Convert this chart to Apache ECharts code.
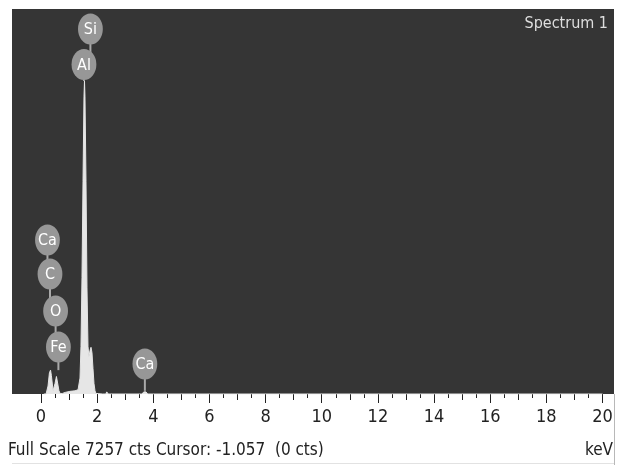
<!DOCTYPE html>
<html>
<head>
<meta charset="utf-8">
<script src="https://cdn.jsdelivr.net/npm/echarts@6/dist/echarts.min.js"></script>
<style>html,body{margin:0;padding:0;background:#fff}#c{width:620px;height:465px}</style>
</head>
<body>
<div id="c"></div>
<script>
// Spectrum (keV, counts)
const energyKeV = [0.10, 0.18, 0.25, 0.30, 0.34, 0.37, 0.43, 0.46, 0.50, 0.55, 0.59, 0.64, 0.68, 0.76, 0.79, 0.82, 0.86, 0.89, 1.03, 1.21, 1.32, 1.353, 1.389, 1.424, 1.460, 1.496, 1.531, 1.549, 1.567, 1.603, 1.638, 1.674, 1.709, 1.745, 1.781, 1.816, 1.852, 1.887, 1.923, 1.958, 2.20, 2.31, 2.34, 2.37, 2.40, 3.60, 3.66, 3.70, 3.74, 3.80, 20.0];
const counts    = [0,    0,    150,  400,  450,  350,  60,   30,   200,  330,  300,  60,   10,   10,   40,   10,   30,   40,   50,   60,   80,   100,   300,   900,   2200,  4000,  5600,  5900,  5600,  4000,  2000,  900,   700,   820,   880,   780,   480,   200,   60,    10,    0,    0,    40,   40,   0,    0,    40,   60,   40,   0,    0];

// Element annotation labels
const peakLabels     = ['Si', 'Al', 'Ca', 'C', 'O', 'Fe', 'Ca'];
const labelKeV       = [1.76, 1.53, 0.23, 0.32, 0.52, 0.62, 3.70];
const labelCounts    = [6880, 6211, 2903, 2262, 1565, 886, 565];
const stemEndCounts  = [6211, 5900, 2262, 1565, 886, 450, 60];

// Axis
const xMin = -1.033, xMax = 20.41, fullScale = 7257;
const tickLabels = [0, 2, 4, 6, 8, 10, 12, 14, 16, 18, 20];
const oddTicks = [1, 3, 5, 7, 9, 11, 13, 15, 17, 19];
const halfTicks = [0.5, 1.5, 2.5, 3.5, 4.5, 5.5, 6.5, 7.5, 8.5, 9.5, 10.5, 11.5, 12.5, 13.5, 14.5, 15.5, 16.5, 17.5, 18.5, 19.5];

const FONT = "'Liberation Sans Narrow','Arial Narrow','DejaVu Sans Condensed',sans-serif";

const spectrum = energyKeV.map((e, i) => [e, counts[i]]);
const labelData = peakLabels.map((n, i) => [labelKeV[i], labelCounts[i], stemEndCounts[i], n]);

function tickAxis(vals, len, showLabels) {
  return {
    type: 'value', min: xMin, max: xMax, position: 'bottom', gridIndex: 0,
    axisLine: { show: false },
    splitLine: { show: false },
    axisTick: { show: true, length: len, customValues: vals, lineStyle: { color: '#222', width: 1 } },
    axisLabel: showLabels ? { show: true, customValues: vals, margin: 14, fontSize: 18, color: '#222', fontFamily: FONT } : { show: false }
  };
}

const chart = echarts.init(document.getElementById('c'), null, { renderer: 'canvas' });
chart.setOption({
  animation: false,
  backgroundColor: '#ffffff',
  grid: { left: 12, top: 9, right: 6, bottom: 71, show: true, backgroundColor: '#353535', borderWidth: 0 },
  xAxis: [tickAxis(tickLabels, 9, true), tickAxis(oddTicks, 6, false), tickAxis(halfTicks, 4, false)],
  yAxis: { type: 'value', min: 0, max: fullScale, show: false, splitLine: { show: false } },
  series: [
    {
      type: 'line', data: spectrum, xAxisIndex: 0, showSymbol: false, symbol: 'none',
      lineStyle: { color: '#e4e4e4', width: 1 },
      areaStyle: { color: '#e6e6e6', opacity: 1 }
    },
    {
      type: 'custom', xAxisIndex: 0, data: labelData,
      encode: { x: 0, y: [1, 2] },
      renderItem: function (params, api) {
        const c = api.coord([api.value(0), api.value(1)]);
        const e = api.coord([api.value(0), api.value(2)]);
        const name = peakLabels[params.dataIndex];
        return {
          type: 'group',
          children: [
            { type: 'line', shape: { x1: c[0], y1: c[1], x2: e[0], y2: e[1] }, style: { stroke: '#a9a9a9', lineWidth: 2 } },
            { type: 'circle', x: c[0], y: c[1], scaleX: 0.8, shape: { cx: 0, cy: 0, r: 15.5 }, style: { fill: '#979797' } },
            { type: 'text', x: c[0], y: c[1] + 1, style: { text: name, fill: '#ffffff', align: 'center', verticalAlign: 'middle', fontSize: 16, fontFamily: FONT } }
          ]
        };
      }
    }
  ],
  graphic: [
    { type: 'text', right: 12, top: 16, style: { text: 'Spectrum 1', fill: '#dedede', fontSize: 16, fontFamily: FONT } },
    { type: 'text', left: 8, top: 442, style: { text: 'Full Scale 7257 cts Cursor: -1.057  (0 cts)', fill: '#222', fontSize: 17, fontFamily: FONT } },
    { type: 'text', right: 7, top: 442, style: { text: 'keV', fill: '#222', fontSize: 17, fontFamily: FONT } },
    { type: 'line', shape: { x1: 614.5, y1: 394, x2: 614.5, y2: 465 }, style: { stroke: '#b8b8b8', lineWidth: 1 } },
    { type: 'line', shape: { x1: 12, y1: 463.5, x2: 614, y2: 463.5 }, style: { stroke: '#e2e2e2', lineWidth: 1 } }
  ]
});
</script>
</body>
</html>
